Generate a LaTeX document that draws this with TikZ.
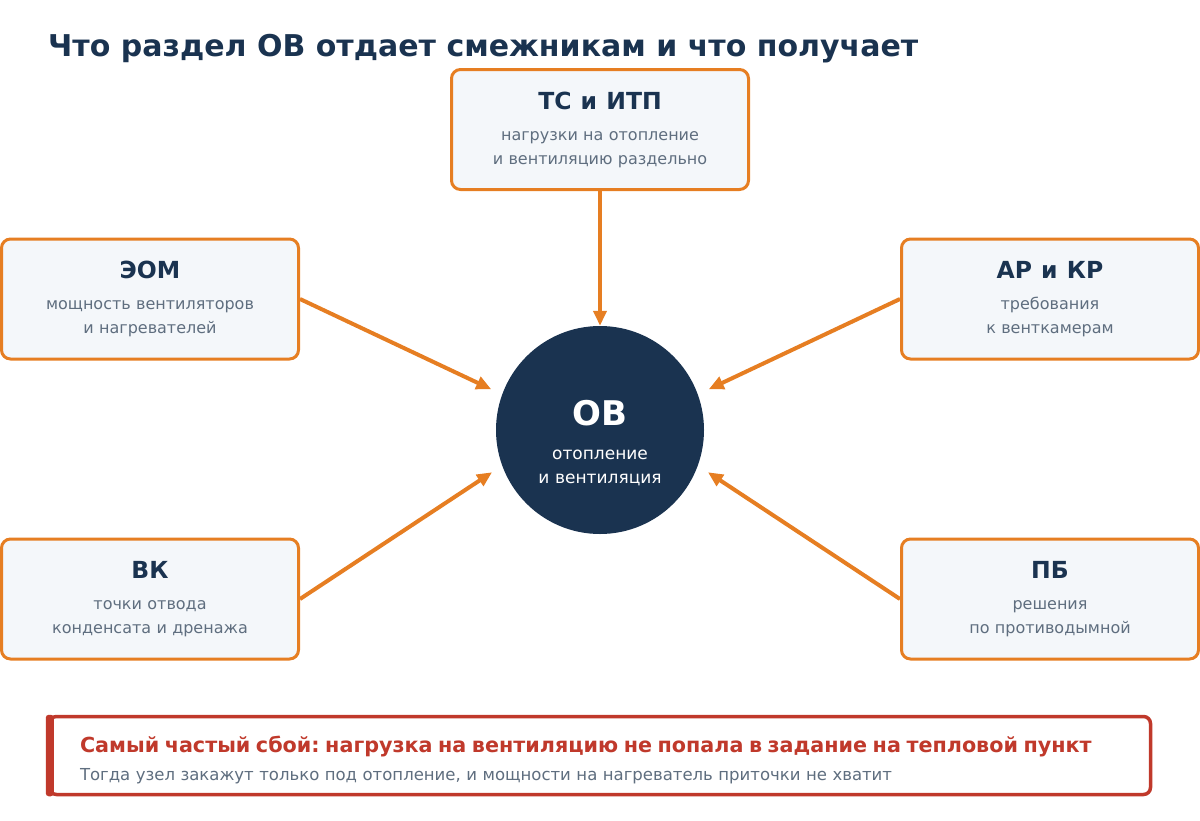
\documentclass[tikz,border=0pt]{standalone}
\usepackage{fontspec}
\setmainfont{DejaVu Sans}
\usepackage{xcolor}
\usepackage{tikz}
\usetikzlibrary{calc, arrows.meta, positioning}
\definecolor{navy}{HTML}{1A3350}
\definecolor{ora}{HTML}{E67E22}
\definecolor{warnred}{HTML}{C0392B}
\definecolor{gry}{HTML}{5F6E7F}
\definecolor{boxfill}{HTML}{F4F7FA}
\frenchspacing
\tikzset{
    boxnode/.style = {draw=ora, line width=3pt, fill=boxfill, rectangle, rounded corners=9pt,
      minimum width=297pt, minimum height=120pt, inner sep=0pt, node distance=0em,
      text width=290pt, align=center, text=gry, font=\fontsize{16}{24}\selectfont},
    circlenode/.style = {circle, fill=navy, draw=none, minimum size=208pt, inner sep=0pt,
      node distance=0em, text width=140pt, align=center, text=white, font=\fontsize{17}{24}\selectfont},
    notenode/.style = {draw=warnred, line width=3.5pt, fill=white, rectangle, rounded corners=7pt,
      minimum width=1101pt, minimum height=78pt, inner sep=0pt, node distance=0em,
      text width=1040pt, align=left, text=gry, font=\fontsize{16.5}{28}\selectfont},
    textnode/.style = {draw=none, fill=none, rectangle, inner sep=0pt, text=navy,
      font=\fontsize{30}{34}\selectfont\bfseries},
    connect/.style = {ora, line width=4pt, -{Triangle[length=15pt, width=13pt]}, shorten >=12pt}
}
\newcommand{\boxtitle}[1]{{\fontsize{23.5}{27}\selectfont\bfseries\spaceskip=1.12\fontdimen2\font\color{navy}#1}}

\begin{document}
\begin{tikzpicture}[x=1pt, y=-1pt]
    \useasboundingbox (0,0) rectangle (1200,820);

    \node[textnode, name=headline, anchor=base west] at (48,56) {Что раздел ОВ отдает смежникам и что получает};

    \node[circlenode, name=OV] at (600,430) {{\rule{0pt}{52pt}\fontsize{34}{36}\selectfont\bfseries ОВ}\\[10pt]отопление\\и вентиляция};

    \node[boxnode, name=TS, above of=OV, yshift=300.5pt] {\boxtitle{ТС и ИТП}\\[7pt]нагрузки на отопление\\и вентиляцию раздельно};
    \node[boxnode, name=EOM, left of=OV, xshift=-450pt, yshift=131pt] {\boxtitle{ЭОМ}\\[7pt]мощность вентиляторов\\и нагревателей};
    \node[boxnode, name=AR, right of=OV, xshift=450pt, yshift=131pt] {\boxtitle{АР и КР}\\[7pt]требования\\к венткамерам};
    \node[boxnode, name=VK, left of=OV, xshift=-450pt, yshift=-169pt] {\boxtitle{ВК}\\[7pt]точки отвода\\конденсата и дренажа};
    \node[boxnode, name=PB, right of=OV, xshift=450pt, yshift=-169pt] {\boxtitle{ПБ}\\[7pt]решения\\по противодымной};

    \draw (TS.south) edge[connect, shorten >=0pt] (OV.north);
    \draw (EOM.east) edge[connect] (OV.160);
    \draw (AR.west) edge[connect] (OV.20);
    \draw (VK.east) edge[connect] (OV.200);
    \draw (PB.west) edge[connect] (OV.340);

    \node[notenode, name=note, below of=OV, yshift=-325.5pt] {{\rule{0pt}{25pt}\fontsize{20.7}{24}\selectfont\bfseries\color{warnred}Самый частый сбой: нагрузка на вентиляцию не попала в задание на тепловой пункт}\\Тогда узел закажут только под отопление, и мощности на нагреватель приточки не хватит};
    \fill[warnred, rounded corners=3pt] ([xshift=-2pt]note.north west) rectangle ([xshift=6pt]note.south west);
\end{tikzpicture}
\end{document}
